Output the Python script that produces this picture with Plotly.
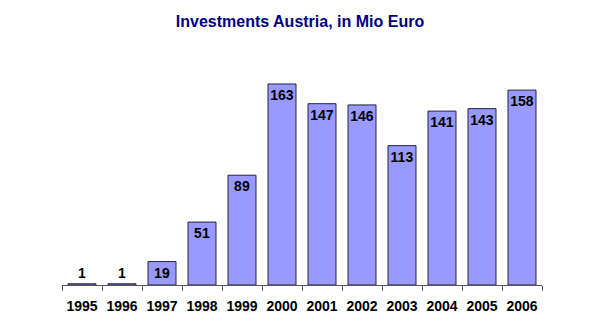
import plotly.graph_objects as go

years = ["1995", "1996", "1997", "1998", "1999", "2000", "2001", "2002", "2003", "2004", "2005", "2006"]
values = [1, 1, 19, 51, 89, 163, 147, 146, 113, 141, 143, 158]

positions = ["outside" if v < 10 else "inside" for v in values]

fig = go.Figure(go.Bar(
    x=years, y=values,
    text=["<b>%d</b>" % v for v in values],
    textposition=positions,
    insidetextanchor="end",
    textangle=0,
    cliponaxis=False,
    textfont=dict(family="Arial, Liberation Sans, sans-serif", size=14, color="#000000"),
    marker=dict(color="#9999FF", line=dict(color="#222244", width=1)),
))

fig.update_layout(
    width=600, height=329,
    margin=dict(l=62, r=58, t=63, b=44),
    paper_bgcolor="white", plot_bgcolor="white",
    bargap=0.3,
    showlegend=False,
    uniformtext=dict(minsize=14, mode="show"),
    title=dict(text="<b>Investments Austria, in Mio Euro</b>", x=0.5, xanchor="center",
               y=0.935, yanchor="middle",
               font=dict(family="Arial, Liberation Sans, sans-serif", size=16, color="#000080")),
    font=dict(family="Arial, Liberation Sans, sans-serif"),
)
fig.update_xaxes(
    type="category", showline=True, linecolor="#555555", linewidth=1,
    ticks="outside", tickson="boundaries", ticklen=5, tickcolor="#555555",
    tickangle=0, ticklabelstandoff=8,
    tickfont=dict(size=14, color="#000000", family="Arial, Liberation Sans, sans-serif"),
    tickprefix="<b>", ticksuffix="</b>",
    showgrid=False,
)
fig.update_yaxes(range=[0, 180], visible=False, showgrid=False, zeroline=False)

fig.write_html("out.html")
